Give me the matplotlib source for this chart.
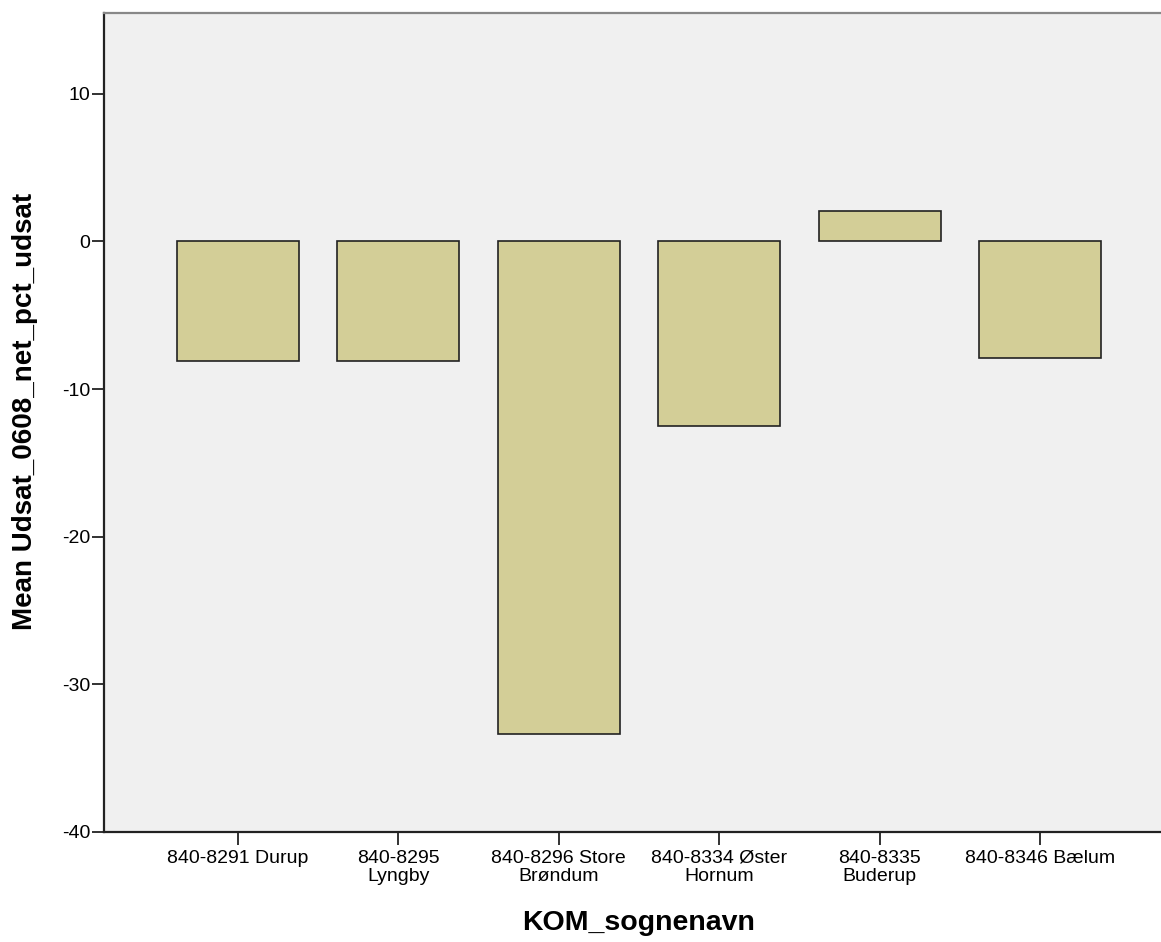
import matplotlib.pyplot as plt

# Mean net percent per parish
parishes = ['840-8291 Durup', '840-8295\nLyngby', '840-8296 Store\nBrøndum',
            '840-8334 Øster\nHornum', '840-8335\nBuderup', '840-8346 Bælum']
means = [-8.1, -8.1, -33.4, -12.5, 2.05, -7.9]

plt.rcParams['font.family'] = ['Liberation Sans', 'DejaVu Sans']
plt.rcParams['axes.unicode_minus'] = False

fig = plt.figure(figsize=(11.61, 9.42), dpi=100)
# plot area runs off the right edge of the picture, as in the original
ax = fig.add_axes([0.0896, 0.117, 0.9214, 0.8695])
ax.set_facecolor('#f0f0f0')

x = range(len(parishes))
ax.bar(x, means, width=0.76, color='#d3ce97', edgecolor='#222222', linewidth=1.2, zorder=2)

ax.set_xlim(-0.833, 5.833)
ax.set_ylim(-40, 15.5)
ax.set_yticks([-40, -30, -20, -10, 0, 10])
ax.set_xticks(list(x))
ax.set_xticklabels(parishes, linespacing=1.1)

ax.tick_params(axis='both', labelsize=14, length=9, width=1.3, color='#222222')
ax.tick_params(axis='x', pad=4)
ax.tick_params(axis='y', pad=1)

for side in ['left', 'bottom']:
    ax.spines[side].set_color('#222222')
    ax.spines[side].set_linewidth(1.6)
ax.spines['top'].set_color('#888888')
ax.spines['top'].set_linewidth(1.6)
ax.spines['right'].set_visible(False)

ax.set_xlabel('KOM_sognenavn', fontsize=20.5, fontweight='bold', labelpad=18)
ax.set_ylabel('Mean Udsat_0608_net_pct_udsat', fontsize=20, fontweight='bold')
ax.yaxis.set_label_coords(-0.062, 0.513)

fig.savefig('out.png', dpi=100)
